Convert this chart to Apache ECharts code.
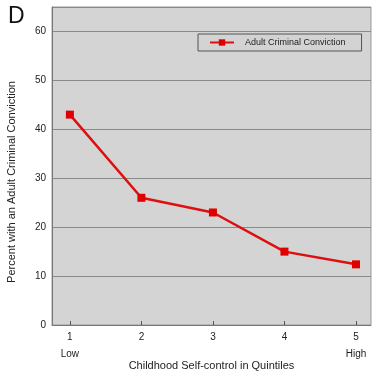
<!DOCTYPE html>
<html>
<head>
<meta charset="utf-8">
<script src="https://cdn.jsdelivr.net/npm/echarts@6/dist/echarts.min.js"></script>
<style>
  html, body { margin: 0; padding: 0; background: #fff; }
  #chart { width: 380px; height: 376px; }
</style>
</head>
<body>
<div id="chart"></div>
<script>
  var quintiles = [1, 2, 3, 4, 5];
  var conviction = [43.0, 26.0, 23.0, 15.0, 12.4];
  var endLabels = { 1: 'Low', 5: 'High' };
  var seriesName = 'Adult Criminal Conviction';

  var font = 'Liberation Sans, Arial, sans-serif';
  var data = quintiles.map(function (q, i) { return [q, conviction[i]]; });

  var myChart = echarts.init(document.getElementById('chart'));
  var option = {
    animation: false,
    backgroundColor: '#fff',
    title: {
      text: 'D',
      left: 3,
      top: 0,
      textStyle: { fontFamily: font, fontSize: 23, fontWeight: 'normal', color: '#111' }
    },
    legend: {
      left: 198,
      top: 34,
      data: [seriesName],
      itemWidth: 24,
      itemHeight: 8,
      padding: [4, 16, 4, 11],
      backgroundColor: '#d3d3d3',
      borderColor: '#555',
      borderWidth: 1,
      borderRadius: 0,
      textStyle: { fontFamily: font, fontSize: 9, color: '#222', padding: [0, 0, 0, 6] }
    },
    grid: {
      left: 52,
      right: 9,
      top: 7,
      bottom: 51,
      outerBoundsMode: 'none',
      containLabel: false,
      show: true,
      backgroundColor: '#d4d4d4',
      borderColor: '#999',
      borderWidth: 1
    },
    graphic: [{
      type: 'text',
      x: 12,
      y: 182,
      rotation: Math.PI / 2,
      style: {
        text: 'Percent with an Adult Criminal Conviction',
        font: '11px ' + font,
        fill: '#222',
        align: 'center',
        verticalAlign: 'middle'
      }
    }],
    xAxis: {
      type: 'value',
      min: 0.75,
      max: 5.21,
      name: 'Childhood Self-control in Quintiles',
      nameLocation: 'middle',
      nameGap: 35,
      nameMoveOverlap: false,
      nameTextStyle: { fontFamily: font, fontSize: 11, color: '#222' },
      splitLine: { show: false },
      axisLine: { lineStyle: { color: '#777', width: 1 } },
      axisTick: { inside: true, length: 4, customValues: quintiles, lineStyle: { color: '#555' } },
      axisLabel: {
        customValues: quintiles,
        margin: 4,
        fontFamily: font,
        fontSize: 10,
        color: '#222',
        lineHeight: 17,
        formatter: function (v) {
          return endLabels[v] ? v + '\n' + endLabels[v] : String(v);
        }
      }
    },
    yAxis: {
      type: 'value',
      min: 0,
      max: 65,
      interval: 10,
      axisLine: { show: true, lineStyle: { color: '#777', width: 1 } },
      axisTick: { show: false },
      splitLine: { show: true, lineStyle: { color: '#8a8a8a', width: 1 } },
      axisLabel: {
        fontFamily: font,
        fontSize: 10,
        color: '#222',
        margin: 6,
        formatter: function (v) { return v > 60 ? '' : v; }
      }
    },
    series: [{
      name: seriesName,
      type: 'line',
      data: data,
      symbol: 'rect',
      symbolSize: 8,
      lineStyle: { color: '#dd0f0f', width: 2.5 },
      itemStyle: { color: '#e00000' }
    }]
  };
  myChart.setOption(option);
</script>
</body>
</html>
